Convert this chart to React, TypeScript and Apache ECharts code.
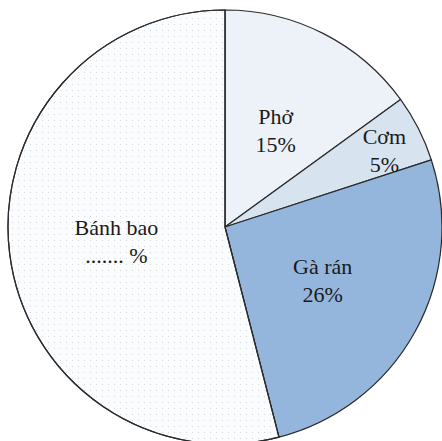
import React, { useEffect, useRef } from "react";
import * as echarts from "echarts";

const categories = ["Phở", "Cơm", "Gà rán", "Bánh bao"];
const values = [15, 5, 26, 54];
const percentTexts = ["15%", "5%", "26%", "....... %"];
const colors = ["#edf2f9", "#d8e3f0", "#95b6dc", "#fbfcfd"];
const labelOffsets = [[0, 3], [60, -26], [0, 0], [2, 1]];

const serif = "Liberation Serif";

export default function App() {
  const ref = useRef<HTMLDivElement>(null);
  useEffect(() => {
    document.body.style.margin = "0";
    const chart = echarts.init(ref.current!, null, { renderer: "svg" });
    chart.setOption({
      animation: false,
      backgroundColor: "#ffffff",
      textStyle: { fontFamily: serif },
      series: [
        {
          type: "pie",
          center: [225, 227],
          radius: 217,
          startAngle: 90,
          clockwise: true,
          avoidLabelOverlap: false,
          itemStyle: { borderColor: "#2b2b2b", borderWidth: 1.2 },
          label: {
            show: true,
            position: "inside",
            fontFamily: serif,
            fontSize: 22,
            lineHeight: 28,
            color: "#1a1a1a",
            align: "center",
          },
          labelLine: { show: false },
          emphasis: { disabled: true },
          data: categories.map((name, i) => ({
            name,
            value: values[i],
            itemStyle:
              i === 3
                ? {
                    color: colors[i],
                    decal: {
                      symbol: "rect",
                      symbolSize: 1,
                      color: "#d3d8df",
                      dashArrayX: [1, 5],
                      dashArrayY: [1, 5],
                    },
                  }
                : { color: colors[i] },
            label: { formatter: `${name}\n${percentTexts[i]}`, offset: labelOffsets[i] },
          })),
        },
      ],
    });
    return () => chart.dispose();
  }, []);
  return <div ref={ref} style={{ position: "fixed", left: 0, top: 0, width: 442, height: 441 }} />;
}
